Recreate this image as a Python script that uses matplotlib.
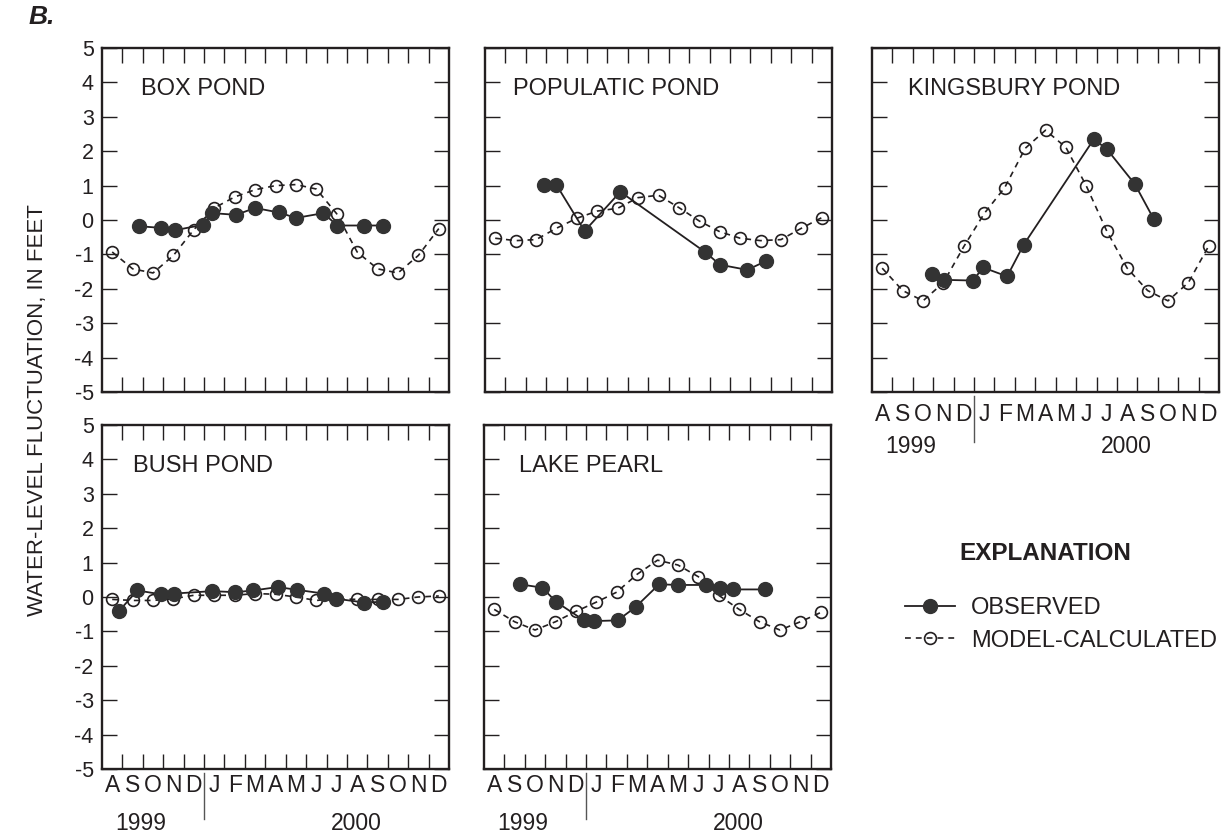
import matplotlib
matplotlib.use("Agg")
import matplotlib.pyplot as plt
from matplotlib.lines import Line2D
import matplotlib.transforms as mtransforms

plt.rcParams["font.family"] = ["Liberation Sans", "DejaVu Sans"]
plt.rcParams["axes.unicode_minus"] = False

INK = "#231f20"

# months Aug 1999 .. Dec 2000, model values plotted mid-month
months = ["A", "S", "O", "N", "D", "J", "F", "M", "A", "M", "J", "J", "A", "S", "O", "N", "D"]
model_t = [i + 0.5 for i in range(17)]

box_model = [-0.93, -1.42, -1.54, -1.03, -0.28, 0.35, 0.67, 0.88, 1.0, 1.03, 0.9, 0.18,
             -0.93, -1.42, -1.54, -1.03, -0.25]
box_obs_t = [1.81, 2.90, 3.56, 4.94, 5.40, 6.57, 7.50, 8.65, 9.51, 10.85, 11.52, 12.85, 13.78]
box_obs = [-0.18, -0.23, -0.30, -0.14, 0.20, 0.15, 0.35, 0.22, 0.06, 0.20, -0.16, -0.16, -0.16]

pop_model = [-0.53, -0.60, -0.57, -0.24, 0.05, 0.26, 0.34, 0.65, 0.72, 0.36, -0.03, -0.34,
             -0.53, -0.60, -0.57, -0.24, 0.07]
pop_obs_t = [2.90, 3.49, 4.88, 6.63, 10.80, 11.51, 12.85, 13.78]
pop_obs = [1.03, 1.03, -0.32, 0.82, -0.94, -1.30, -1.45, -1.19]

king_model = [-1.40, -2.05, -2.35, -1.82, -0.77, 0.19, 0.94, 2.08, 2.61, 2.11, 0.99, -0.32,
              -1.40, -2.05, -2.35, -1.82, -0.75]
king_obs_t = [2.94, 3.55, 4.95, 5.44, 6.62, 7.43, 10.87, 11.52, 12.88, 13.81]
king_obs = [-1.57, -1.74, -1.76, -1.38, -1.64, -0.72, 2.35, 2.05, 1.04, 0.02]

bush_model = [-0.07, -0.10, -0.10, -0.05, 0.05, 0.05, 0.05, 0.10, 0.08, 0.0, -0.10, -0.05,
              -0.07, -0.07, -0.07, 0.0, 0.03]
bush_obs_t = [0.83, 1.73, 2.87, 3.52, 5.40, 6.54, 7.42, 8.61, 9.54, 10.86, 11.47, 12.85, 13.78]
bush_obs = [-0.41, 0.19, 0.08, 0.10, 0.17, 0.14, 0.19, 0.29, 0.21, 0.10, -0.05, -0.16, -0.14]

pearl_model = [-0.36, -0.72, -0.96, -0.72, -0.42, -0.15, 0.14, 0.66, 1.07, 0.93, 0.59, 0.05,
               -0.36, -0.72, -0.96, -0.72, -0.45]
pearl_obs_t = [1.76, 2.86, 3.53, 4.90, 5.39, 6.55, 7.43, 8.58, 9.49, 10.88, 11.54, 12.22, 13.77]
pearl_obs = [0.37, 0.27, -0.14, -0.68, -0.70, -0.68, -0.29, 0.37, 0.35, 0.35, 0.27, 0.22, 0.22]

W, H = 1226, 834
fig = plt.figure(figsize=(W / 100, H / 100), dpi=100)


def frac(x0, y_top, w=347, h=344):
    return [x0 / W, 1 - (y_top + h) / H, w / W, h / H]


# (name, model, obs_t, obs, rect, title x, ytick labels, xlabels, month pad)
panels = [
    ("BOX POND", box_model, box_obs_t, box_obs, frac(102, 48), 0.112, True, False, 0),
    ("POPULATIC POND", pop_model, pop_obs_t, pop_obs, frac(485, 48), 0.081, False, False, 0),
    ("KINGSBURY POND", king_model, king_obs_t, king_obs, frac(872, 48), 0.104, False, True, 8),
    ("BUSH POND", bush_model, bush_obs_t, bush_obs, frac(102, 425), 0.089, True, True, 3.5),
    ("LAKE PEARL", pearl_model, pearl_obs_t, pearl_obs, frac(484, 425), 0.100, False, True, 3.5),
]

for name, mod, ot, ov, rect, tx, ylab, xlab, mpad in panels:
    ax = fig.add_axes(rect)
    ax.plot(model_t, mod, color=INK, lw=1.2, ls=(0, (3.5, 3)), marker="o", ms=8.5,
            mfc="none", mec=INK, mew=1.2, clip_on=False)
    ax.plot(ot, ov, color=INK, lw=1.3, marker="o", ms=10, mfc="#333333", mec="#333333",
            clip_on=False)
    ax.set_xlim(0, 17)
    ax.set_ylim(-5, 5)
    for s in ax.spines.values():
        s.set_linewidth(1.7)
        s.set_color(INK)
    ax.set_yticks(range(-5, 6))
    ax.set_xticks(range(1, 17))
    ax.tick_params(axis="both", which="major", direction="in", length=10.5, width=1.0,
                   color=INK, top=True, right=True, labelsize=15.5, labelcolor=INK)
    ax.tick_params(axis="y", pad=6)
    ax.set_xticklabels([])
    if not ylab:
        ax.set_yticklabels([])
    if xlab:
        ax.set_xticks(model_t, minor=True)
        ax.set_xticklabels(months, minor=True)
        ax.tick_params(axis="x", which="minor", length=0, pad=mpad, labelsize=16.5,
                       labelcolor=INK)
        trans = mtransforms.blended_transform_factory(ax.transData, ax.transAxes)
        ax.plot([5, 5], [-0.012, -0.145], transform=trans, color="#555555", lw=1.0,
                clip_on=False)
        ax.text(1.9, -0.158, "1999", transform=trans, ha="center", va="center",
                fontsize=16.5, color=INK)
        ax.text(12.45, -0.158, "2000", transform=trans, ha="center", va="center",
                fontsize=16.5, color=INK)
    ax.text(tx, 0.88, name, transform=ax.transAxes, ha="left", va="center",
            fontsize=17, color=INK)

fig.text(42 / W, 1 - 17.5 / H, "B.", fontsize=19, fontweight="bold", fontstyle="italic",
         ha="center", va="center", color=INK)
fig.text(38 / W, 1 - 410 / H, "WATER-LEVEL FLUCTUATION, IN FEET", rotation=90,
         fontsize=16, ha="center", va="center", color=INK)

fig.text(1045 / W, 1 - 553 / H, "EXPLANATION", fontsize=17.5, fontweight="bold",
         ha="center", va="center", color=INK)
handles = [
    Line2D([], [], color=INK, lw=1.3, marker="o", ms=10, mfc="#333333", mec="#333333"),
    Line2D([], [], color=INK, lw=1.2, ls=(0, (3.5, 3)), marker="o", ms=8.5, mfc="none",
           mec=INK, mew=1.2),
]
leg = fig.legend(handles, ["OBSERVED", "MODEL-CALCULATED"], loc="upper left",
                 bbox_to_anchor=(905 / W, 1 - 597 / H), frameon=False, fontsize=17,
                 handlelength=2.1, handletextpad=0.7, labelspacing=0.45,
                 borderpad=0, borderaxespad=0, labelcolor=INK)

fig.savefig("out.png", dpi=100)
